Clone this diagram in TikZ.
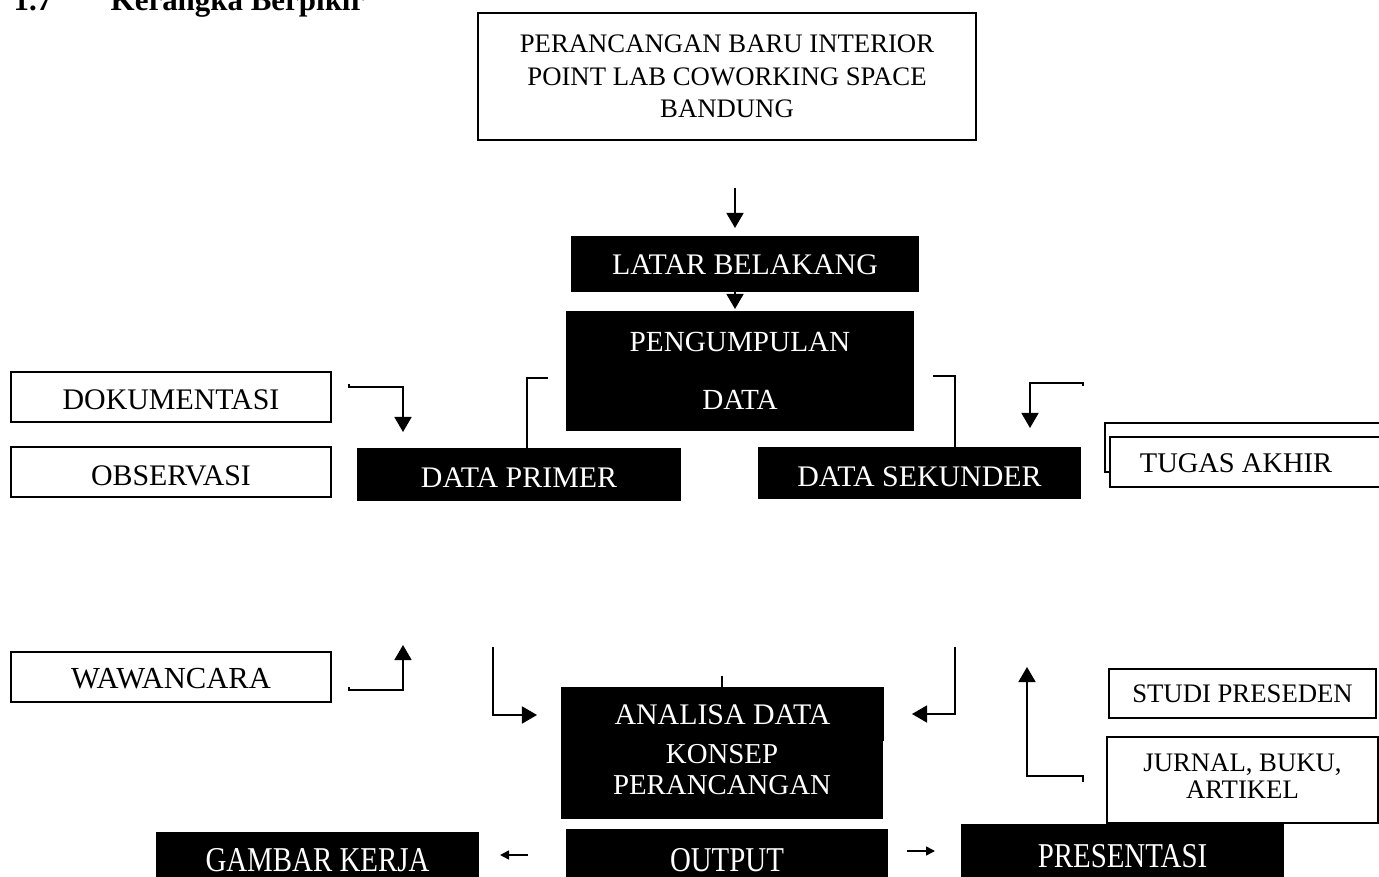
\documentclass[tikz,border=0pt]{standalone}
\usepackage{fontspec}
\setmainfont{Liberation Serif}
\usetikzlibrary{arrows.meta}
\newcommand{\bl}[2]{\raisebox{-#1}[0pt][0pt]{#2}}
\begin{document}
\begin{tikzpicture}[x=0.01cm,y=-0.01cm,
  wbox/.style={draw=black, line width=0.45pt, fill=white, inner sep=0pt, outer sep=0pt, align=center, font=\fontsize{8.5}{10}\selectfont},
  bbox/.style={draw=black, fill=black, text=white, inner sep=0pt, outer sep=0pt, align=center, font=\fontsize{8.5}{10}\selectfont},
  sqz/.style={bbox, font=\fontsize{9.9}{12}\selectfont},
  conn/.style={line width=0.45pt},
  arr/.style={conn, -{Triangle[length=1.5mm,width=1.7mm]}},
  sarr/.style={conn, -{Triangle[length=0.9mm,width=0.9mm]}},
  ttl/.style={inner sep=0pt, anchor=base west, font=\fontsize{8.8}{10}\selectfont\bfseries}]
\clip (0,0) rectangle (1379,877);
\fill[white] (0,0) rectangle (1379,877);

% title (cut off at the top)
\node[ttl] (t1) at (13,11) {1.7};
\node[ttl] (t2) at (110,11) {Kerangka Berpikir};

% top box
\node[wbox, minimum width=4.98cm, minimum height=1.27cm, font=\fontsize{7.6}{9.2}\selectfont] (top) at (727,76.5)
  {PERANCANGAN BARU INTERIOR\\POINT LAB COWORKING SPACE\\BANDUNG};

% black boxes
\node[bbox, minimum width=3.46cm, minimum height=0.54cm] (lb) at (745,264) {\bl{2.9pt}{LATAR BELAKANG}};
\node[bbox, minimum width=3.46cm, minimum height=1.18cm, font=\fontsize{8.3}{16.5}\selectfont] (pd) at (740,371) {PENGUMPULAN\\DATA};
\node[bbox, minimum width=3.22cm, minimum height=0.51cm] (dp) at (519,474.5) {\bl{3.8pt}{DATA PRIMER}};
\node[bbox, minimum width=3.21cm, minimum height=0.50cm] (ds) at (919.5,473) {\bl{3.7pt}{DATA SEKUNDER}};

% left white boxes
\node[wbox, minimum width=3.20cm, minimum height=0.50cm] (dok) at (171,397) {\bl{3.6pt}{DOKUMENTASI}};
\node[wbox, minimum width=3.20cm, minimum height=0.50cm] (obs) at (171,472) {\bl{3.7pt}{OBSERVASI}};
\node[wbox, minimum width=3.20cm, minimum height=0.50cm, font=\fontsize{8.7}{10}\selectfont] (waw) at (171,677) {\bl{3.4pt}{WAWANCARA}};

% right white boxes
\node[wbox, minimum width=2.78cm, minimum height=0.49cm] (tugb) at (1244,447.5) {};
\node[wbox, minimum width=2.78cm, minimum height=0.50cm, font=\fontsize{8.1}{10}\selectfont] (tug) at (1249,462) {\hspace*{-0.26cm}\bl{2.85pt}{TUGAS AKHIR}};
\node[wbox, minimum width=2.67cm, minimum height=0.49cm, font=\fontsize{7.6}{10}\selectfont] (stu) at (1242.5,693.5) {\bl{2.5pt}{STUDI PRESEDEN}};
\node[wbox, minimum width=2.71cm, minimum height=0.86cm, font=\fontsize{7.6}{7.7}\selectfont] (jur) at (1242.5,780) {\raisebox{-2pt}{\begin{tabular}{@{}c@{}}JURNAL, BUKU,\\[0pt] ARTIKEL\end{tabular}}};

% analysis / concept
\node[bbox, minimum width=3.21cm, minimum height=0.52cm] (ana) at (722.5,714) {\bl{3.1pt}{ANALISA DATA}};
\node[bbox, minimum width=3.20cm, minimum height=0.91cm, font=\fontsize{8.2}{8.9}\selectfont] (kon) at (722,772.5) {\raisebox{0.4pt}{\begin{tabular}{@{}c@{}}KONSEP\\[0pt] PERANCANGAN\end{tabular}}};

% bottom row
\node[sqz, minimum width=3.21cm, minimum height=0.47cm] (gk) at (317.5,856.5) {\bl{4.4pt}{\scalebox{0.83}[1]{GAMBAR KERJA}}};
\node[sqz, minimum width=3.20cm, minimum height=0.50cm] (out) at (727,855) {\bl{4.8pt}{\scalebox{0.83}[1]{OUTPUT}}};
\node[sqz, minimum width=3.21cm, minimum height=0.55cm] (pre) at (1122.5,852.5) {\bl{4.3pt}{\scalebox{0.83}[1]{PRESENTASI}}};

% coordinates for free connector ends
\coordinate (c1) at (735,188);
\coordinate (c1t) at (735,228);
\coordinate (c2t) at (735,309);
\coordinate (d0) at (349,384);
\coordinate (d1) at (349,387);
\coordinate (d2) at (403,387);
\coordinate (d3) at (403,432);
\coordinate (p1) at (527,378);
\coordinate (p2) at (548,378);
\coordinate (s1) at (955,376);
\coordinate (s2) at (933,376);
\coordinate (r0) at (1083,386);
\coordinate (r1) at (1083,383);
\coordinate (r2) at (1030,383);
\coordinate (r3) at (1030,428);
\coordinate (w0) at (349,687);
\coordinate (w1) at (349,690);
\coordinate (w2) at (403,690);
\coordinate (w3) at (403,645);
\coordinate (l1) at (493,647);
\coordinate (l2) at (493,715);
\coordinate (l3) at (537,715);
\coordinate (q1) at (955,647);
\coordinate (q2) at (955,714);
\coordinate (q3) at (912,714);
\coordinate (m1) at (722,676);
\coordinate (j0) at (1083,782);
\coordinate (j1) at (1083,776);
\coordinate (j2) at (1027,776);
\coordinate (j3) at (1027,667);
\coordinate (g1) at (528,855);
\coordinate (g2) at (500,855);
\coordinate (h1) at (907,851);
\coordinate (h2) at (935,851);

% connectors
\draw[arr] (c1) -- (c1t);
\draw[arr] (lb.south -| c1) -- (c2t);
\draw[arr] (d0) -- (d1) -- (d2) -- (d3);
\draw[conn] (dp.north -| p1) -- (p1) -- (p2);
\draw[conn] (ds.north -| s1) -- (s1) -- (s2);
\draw[arr] (r0) -- (r1) -- (r2) -- (r3);
\draw[arr] (w0) -- (w1) -- (w2) -- (w3);
\draw[arr] (l1) -- (l2) -- (l3);
\draw[arr] (q1) -- (q2) -- (q3);
\draw[conn] (m1) -- (ana.north -| m1);
\draw[arr] (j0) -- (j1) -- (j2) -- (j3);
\draw[sarr] (g1) -- (g2);
\draw[sarr] (h1) -- (h2);
\end{tikzpicture}
\end{document}
